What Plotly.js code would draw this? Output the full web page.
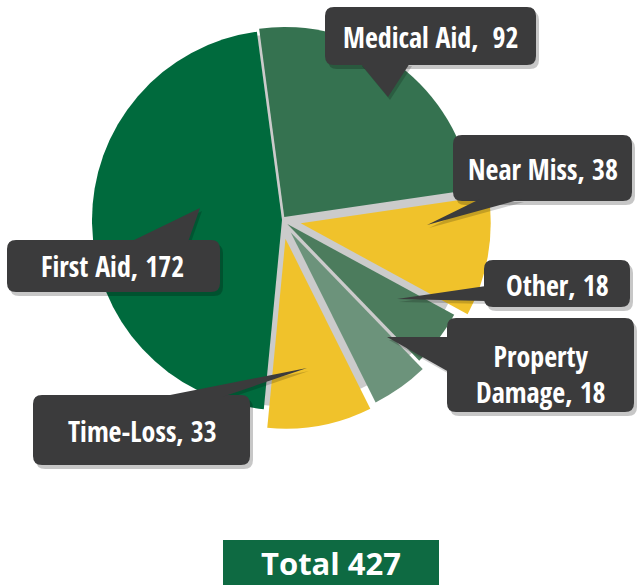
<!DOCTYPE html>
<html>
<head>
<meta charset="utf-8">
<script src="https://cdn.plot.ly/plotly-3.0.1.min.js"></script>
<style>
html,body{margin:0;padding:0;background:#fff;}
#chart{width:637px;height:586px;}
</style>
</head>
<body>
<div id="chart"></div>
<script>
// ---- data ----
const labels = ["Medical Aid", "Near Miss", "Other", "Property Damage", "Time-Loss", "First Aid"];
const values = [92, 38, 18, 18, 33, 172];
const totalValue = 427;

// ---- styles ----
const sliceColors = ["#357250", "#f0c22b", "#4c7c5d", "#6c937b", "#f0c22b", "#006a3d"];
const slicePull = [0.02, 0.1, 0.035, 0.08, 0.1, 0];

const W = 637, H = 586;
const X = x => x / W;
const Y = y => 1 - y / H;
const P = (x, y) => X(x) + "," + Y(y);

function roundRect(x0, y0, x1, y1, r) {
  return "M" + P(x0 + r, y0) + " L" + P(x1 - r, y0) + " Q" + P(x1, y0) + " " + P(x1, y0 + r) +
    " L" + P(x1, y1 - r) + " Q" + P(x1, y1) + " " + P(x1 - r, y1) +
    " L" + P(x0 + r, y1) + " Q" + P(x0, y1) + " " + P(x0, y1 - r) +
    " L" + P(x0, y0 + r) + " Q" + P(x0, y0) + " " + P(x0 + r, y0) + " Z";
}
function tri(pts) {
  return "M" + pts.map(p => P(p[0], p[1])).join(" L") + " Z";
}

// callout layout (pixel positions of boxes / pointers / text)
const callouts = [
  {box: [325, 7, 536, 65], tri: [[360, 63], [410, 63], [388, 97]], tx: 431, ty: 37},
  {box: [453, 135, 632, 201], tri: [[480, 199], [522, 199], [427, 225]], tx: 543, ty: 169},
  {box: [484, 260, 630, 307], tri: [[486, 286], [486, 301], [397, 299]], tx: 557, ty: 285},
  {box: [447, 318, 634, 412], tri: [[449, 337], [449, 372], [387, 337]], tx: 541, ty: 374},
  {box: [33, 395, 250, 465], tri: [[160, 397], [222, 397], [307, 368]], tx: 142, ty: 431},
  {box: [7, 240, 220, 292], tri: [[130, 242], [188, 242], [200, 208]], tx: 112, ty: 266}
];

const calloutFont = {family: "'Open Sans Condensed', 'Liberation Sans Narrow', 'DejaVu Sans Condensed', 'Arial Narrow', sans-serif", size: 28, color: "#ffffff", weight: 700};

const shapes = [];
const annotations = [];
callouts.forEach((c, i) => {
  const b = c.box;
  // soft shadow
  shapes.push({type: "path", xref: "paper", yref: "paper", layer: "above",
    path: roundRect(b[0] + 3, b[1] + 4, b[2] + 3, b[3] + 4, 9),
    fillcolor: "rgba(0,0,0,0.22)", line: {width: 0}});
  shapes.push({type: "path", xref: "paper", yref: "paper", layer: "above",
    path: tri(c.tri.map(p => [p[0] + 2, p[1] + 3])),
    fillcolor: "rgba(0,0,0,0.18)", line: {width: 0}});
  shapes.push({type: "path", xref: "paper", yref: "paper", layer: "above",
    path: roundRect(b[0], b[1], b[2], b[3], 9),
    fillcolor: "#3b3b3c", line: {width: 0}});
  shapes.push({type: "path", xref: "paper", yref: "paper", layer: "above",
    path: tri(c.tri), fillcolor: "#3b3b3c", line: {width: 0}});
  const name = labels[i] === "Property Damage" ? "Property<br>Damage" : labels[i];
  const sep = labels[i] === "Medical Aid" ? ",  " : ", ";
  annotations.push({xref: "paper", yref: "paper", x: X(c.tx), y: Y(c.ty),
    xanchor: "center", yanchor: "middle", showarrow: false,
    text: name + sep + values[i], font: calloutFont, align: "center"});
});

// total box
shapes.push({type: "rect", xref: "paper", yref: "paper", layer: "above",
  x0: X(223), x1: X(439), y0: Y(585), y1: Y(540), fillcolor: "#0e6a42", line: {width: 0}});
annotations.push({xref: "paper", yref: "paper", x: X(331), y: Y(563), xanchor: "center", yanchor: "middle",
  showarrow: false, text: "Total " + totalValue,
  font: {family: "'Open Sans', sans-serif", size: 31, color: "#ffffff", weight: 700}});

// pie geometry: centre (282,220) px, base radius 190, max pull 0.1
const cx = 282, cy = 220, baseR = 190, half = baseR * 1.1, discR = 186;

// grey backing disc that shows through the gaps between pulled slices
const backing = {
  type: "pie",
  values: [1],
  labels: ["backing"],
  marker: {colors: ["#cbcbcb"], line: {width: 0}},
  textinfo: "none",
  hoverinfo: "none",
  showlegend: false,
  domain: {x: [X(cx - discR), X(cx + discR)], y: [Y(cy + discR), Y(cy - discR)]}
};

const trace = {
  type: "pie",
  labels: labels,
  values: values,
  sort: false,
  direction: "clockwise",
  rotation: -7.6,
  pull: slicePull,
  marker: {colors: sliceColors, line: {width: 0}},
  textinfo: "none",
  hoverinfo: "none",
  showlegend: false,
  domain: {x: [X(cx - half), X(cx + half)], y: [Y(cy + half), Y(cy - half)]}
};

const layout = {
  width: W, height: H,
  margin: {l: 0, r: 0, t: 0, b: 0},
  paper_bgcolor: "#ffffff",
  plot_bgcolor: "#ffffff",
  showlegend: false,
  shapes: shapes,
  annotations: annotations
};

Plotly.newPlot("chart", [backing, trace], layout, {displayModeBar: false, staticPlot: true});
</script>
</body>
</html>
